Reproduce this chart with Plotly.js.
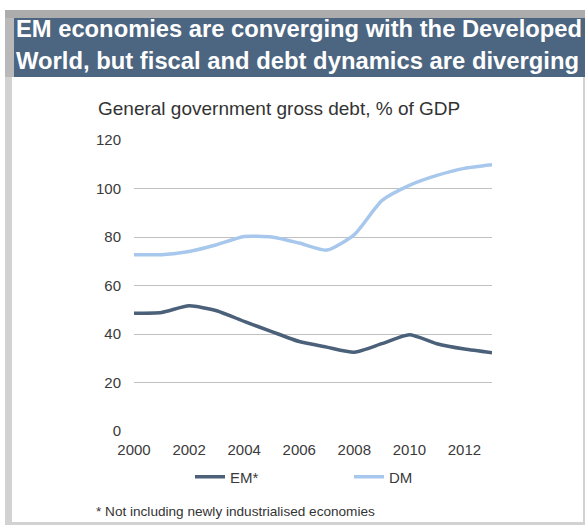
<!DOCTYPE html>
<html>
<head>
<meta charset="utf-8">
<script src="https://cdn.plot.ly/plotly-3.0.1.min.js"></script>
<style>html,body{margin:0;padding:0;background:#fff}#chart{width:585px;height:526px}</style>
</head>
<body>
<div id="chart"></div>
<script>
const years = [2000,2001,2002,2003,2004,2005,2006,2007,2008,2009,2010,2011,2012,2013];
const emDebt = [48.6,48.9,51.6,49.6,45.2,41.0,36.9,34.6,32.5,36.0,39.7,36.0,33.8,32.3];
const dmDebt = [72.7,72.7,74.0,76.8,80.2,80.0,77.5,74.6,81.0,95.0,101.3,105.4,108.3,109.8];
const seriesNames = ['EM*','DM'];
const xTicks = [2000,2002,2004,2006,2008,2010,2012];
const yTicks = [0,20,40,60,80,100,120];
const titleLines = ['EM economies are converging with the Developed','World, but fiscal and debt dynamics are diverging'];
const subtitle = 'General government gross debt, % of GDP';
const footnote = '* Not including newly industrialised economies';

const W = 585, H = 526;
const L = 134, R = 93, T = 140, B = 95;
const pw = W - L - R, ph = H - T - B;
const fx = px => (px - L) / pw;
const fy = py => (H - B - py) / ph;
const rect = (x0, y0, x1, y1, color) => ({type:'rect', xref:'paper', yref:'paper', x0:fx(x0), x1:fx(x1), y0:fy(y1), y1:fy(y0), fillcolor:color, line:{width:0}, layer:'below'});

const txt = '#3a3a3a';
const sans = 'Liberation Sans, Arial, sans-serif';

const traces = [
  {x: years, y: emDebt, name: seriesNames[0], type:'scatter', mode:'lines', line:{color:'#4b6079', width:3.5, shape:'spline', smoothing:0.6}},
  {x: years, y: dmDebt, name: seriesNames[1], type:'scatter', mode:'lines', line:{color:'#a7c8ec', width:3.5, shape:'spline', smoothing:0.6}}
];

const layout = {
  width: W, height: H,
  margin: {l:L, r:R, t:T, b:B, pad:0},
  paper_bgcolor: '#ffffff',
  plot_bgcolor: 'rgba(0,0,0,0)',
  showlegend: true,
  legend: {orientation:'h', xref:'container', yref:'container', x:190/W, xanchor:'left', y:(H-477)/H, yanchor:'middle', entrywidth:114, entrywidthmode:'pixels', font:{family:sans, size:15, color:txt}, bgcolor:'rgba(0,0,0,0)', traceorder:'normal', borderwidth:0},
  xaxis: {range:[2000,2013], tickvals:xTicks, ticktext:xTicks.map(String), showgrid:false, zeroline:false, showline:false, ticks:'', ticklabelstandoff:8, tickfont:{family:sans, size:15, color:txt}, fixedrange:true},
  yaxis: {range:[0,120], tickvals:yTicks, ticktext:yTicks.map(String), showgrid:true, gridcolor:'#c0c0c0', gridwidth:1, zeroline:false, showline:false, ticks:'', ticklabelstandoff:12, tickfont:{family:sans, size:15, color:txt}, fixedrange:true},
  shapes: [
    rect(5, 10, 585, 525, '#d2d2d2'),
    rect(12, 77, 583, 522, '#ffffff'),
    rect(5, 10, 585, 18, '#acacac'),
    rect(5, 18, 14, 77, '#b9b9b9'),
    rect(14, 18, 585, 77, '#4c6580')
  ],
  annotations: [
    {xref:'paper', yref:'paper', x:fx(14), y:fy(29), xanchor:'left', yanchor:'middle', showarrow:false, text:titleLines[0], font:{family:sans, size:23, weight:'bold', color:'#ffffff'}},
    {xref:'paper', yref:'paper', x:fx(14), y:fy(61), xanchor:'left', yanchor:'middle', showarrow:false, text:titleLines[1], font:{family:sans, size:23, weight:'bold', color:'#ffffff'}},
    {xref:'paper', yref:'paper', x:fx(96), y:fy(109), xanchor:'left', yanchor:'middle', showarrow:false, text:subtitle, font:{family:sans, size:19, color:'#333333'}},
    {xref:'paper', yref:'paper', x:fx(94), y:fy(511), xanchor:'left', yanchor:'middle', showarrow:false, text:footnote, font:{family:sans, size:13.6, color:'#333333'}}
  ]
};

Plotly.newPlot('chart', traces, layout, {staticPlot:true, displayModeBar:false}).then(gd => {
  // fit the banner title lines to the banner width like the original
  const targets = [566, 563];
  const anns = gd.querySelectorAll('.annotation');
  [0, 1].forEach(i => {
    const t = anns[i] && anns[i].querySelector('text');
    if (!t) return;
    const before = t.getBBox();
    t.setAttribute('textLength', targets[i]);
    t.setAttribute('lengthAdjust', 'spacingAndGlyphs');
    const after = t.getBBox();
    const x0 = parseFloat(t.getAttribute('x') || '0');
    t.setAttribute('x', x0 + (before.x - after.x));
  });
});
</script>
</body>
</html>
